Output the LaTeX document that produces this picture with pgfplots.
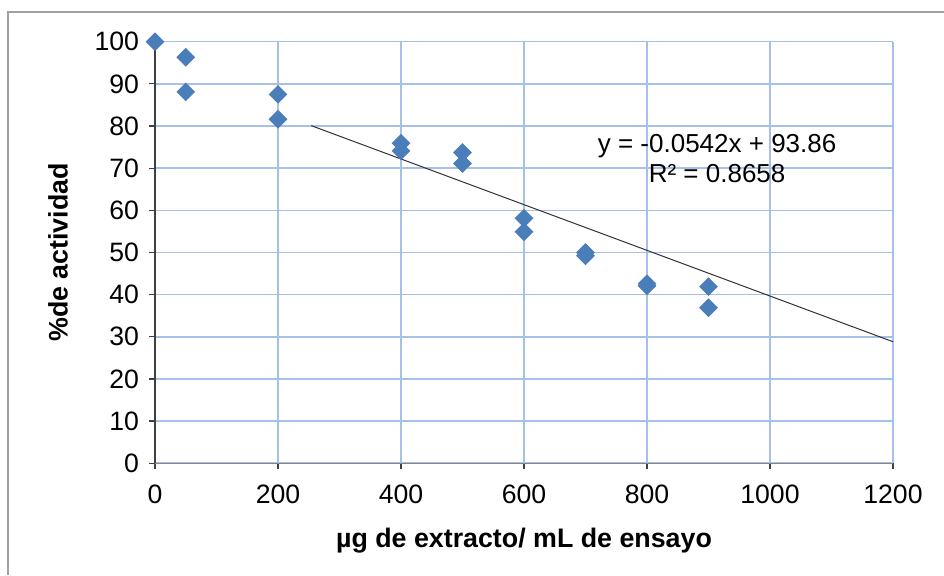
\documentclass[border=0pt]{standalone}
\usepackage{fontspec}
\setmainfont{Liberation Sans}
\usepackage{pgfplots}
\pgfplotsset{compat=1.18}
\definecolor{gridblue}{RGB}{166,192,234}
\definecolor{markblue}{RGB}{74,126,187}
\definecolor{frame}{RGB}{160,160,160}
\definecolor{xax}{RGB}{134,134,134}
\definecolor{yax}{RGB}{64,64,64}
\begin{document}
\begin{tikzpicture}
\useasboundingbox (0,0) rectangle (472pt,287.5pt);
\fill[white] (0,0) rectangle (472pt,287.5pt);
\draw[frame, line width=0.6pt] (4pt,0) -- (4pt,281.5pt) -- (472pt,281.5pt);
\begin{axis}[
 at={(77.5pt,55.9pt)}, anchor=south west,
 scale only axis, width=369pt, height=210.75pt,
 xmin=0, xmax=1200, ymin=0, ymax=100,
 xtick={0,200,...,1200}, ytick={0,10,...,100},
 axis x line=bottom, axis y line=left,
 x axis line style={-, draw=xax, line width=0.6pt},
 y axis line style={-, draw=yax, line width=0.6pt},
 tick align=outside, major tick length=3pt,
 tick style={draw=yax, line width=0.6pt},
 grid=major, major grid style={draw=gridblue, line width=0.75pt},
 ticklabel style={font=\fontsize{13.3}{15}\selectfont},
 xticklabel style={yshift=-4.5pt},
 yticklabel style={xshift=-1.5pt},
 /pgf/number format/assume math mode=true,
 /pgf/number format/1000 sep={},
 xlabel={\textbf{µg de extracto/ mL de ensayo}},
 ylabel={\textbf{\%de actividad}},
 label style={font=\fontsize{13.4}{15}\selectfont},
 xlabel style={at={(axis description cs:0.5,0)}, anchor=center, yshift=-38.5pt},
 ylabel style={at={(axis description cs:0,0.5)}, anchor=center, yshift=48.5pt},
 clip=false,
]
\addplot[only marks, mark=square*, mark size=3.1pt, mark options={rotate=45, fill=markblue, draw=markblue}, color=markblue] coordinates {
 (0,100) (50,96.3) (50,88.1) (200,87.5) (200,81.6)
 (400,75.9) (400,74.1) (500,73.7) (500,71.1)
 (600,58.1) (600,54.9) (700,50.0) (700,49.2)
 (800,42.6) (800,42.1) (900,41.9) (900,36.9)
};
\addplot[black!80, line width=0.5pt, no marks] coordinates {(254,80.09) (1200,28.82)};
\node[font=\fontsize{13}{15}\selectfont, align=center] at (axis cs:914,72.3) {y = -0.0542x + 93.86\\R² = 0.8658};
\end{axis}
\end{tikzpicture}
\end{document}
